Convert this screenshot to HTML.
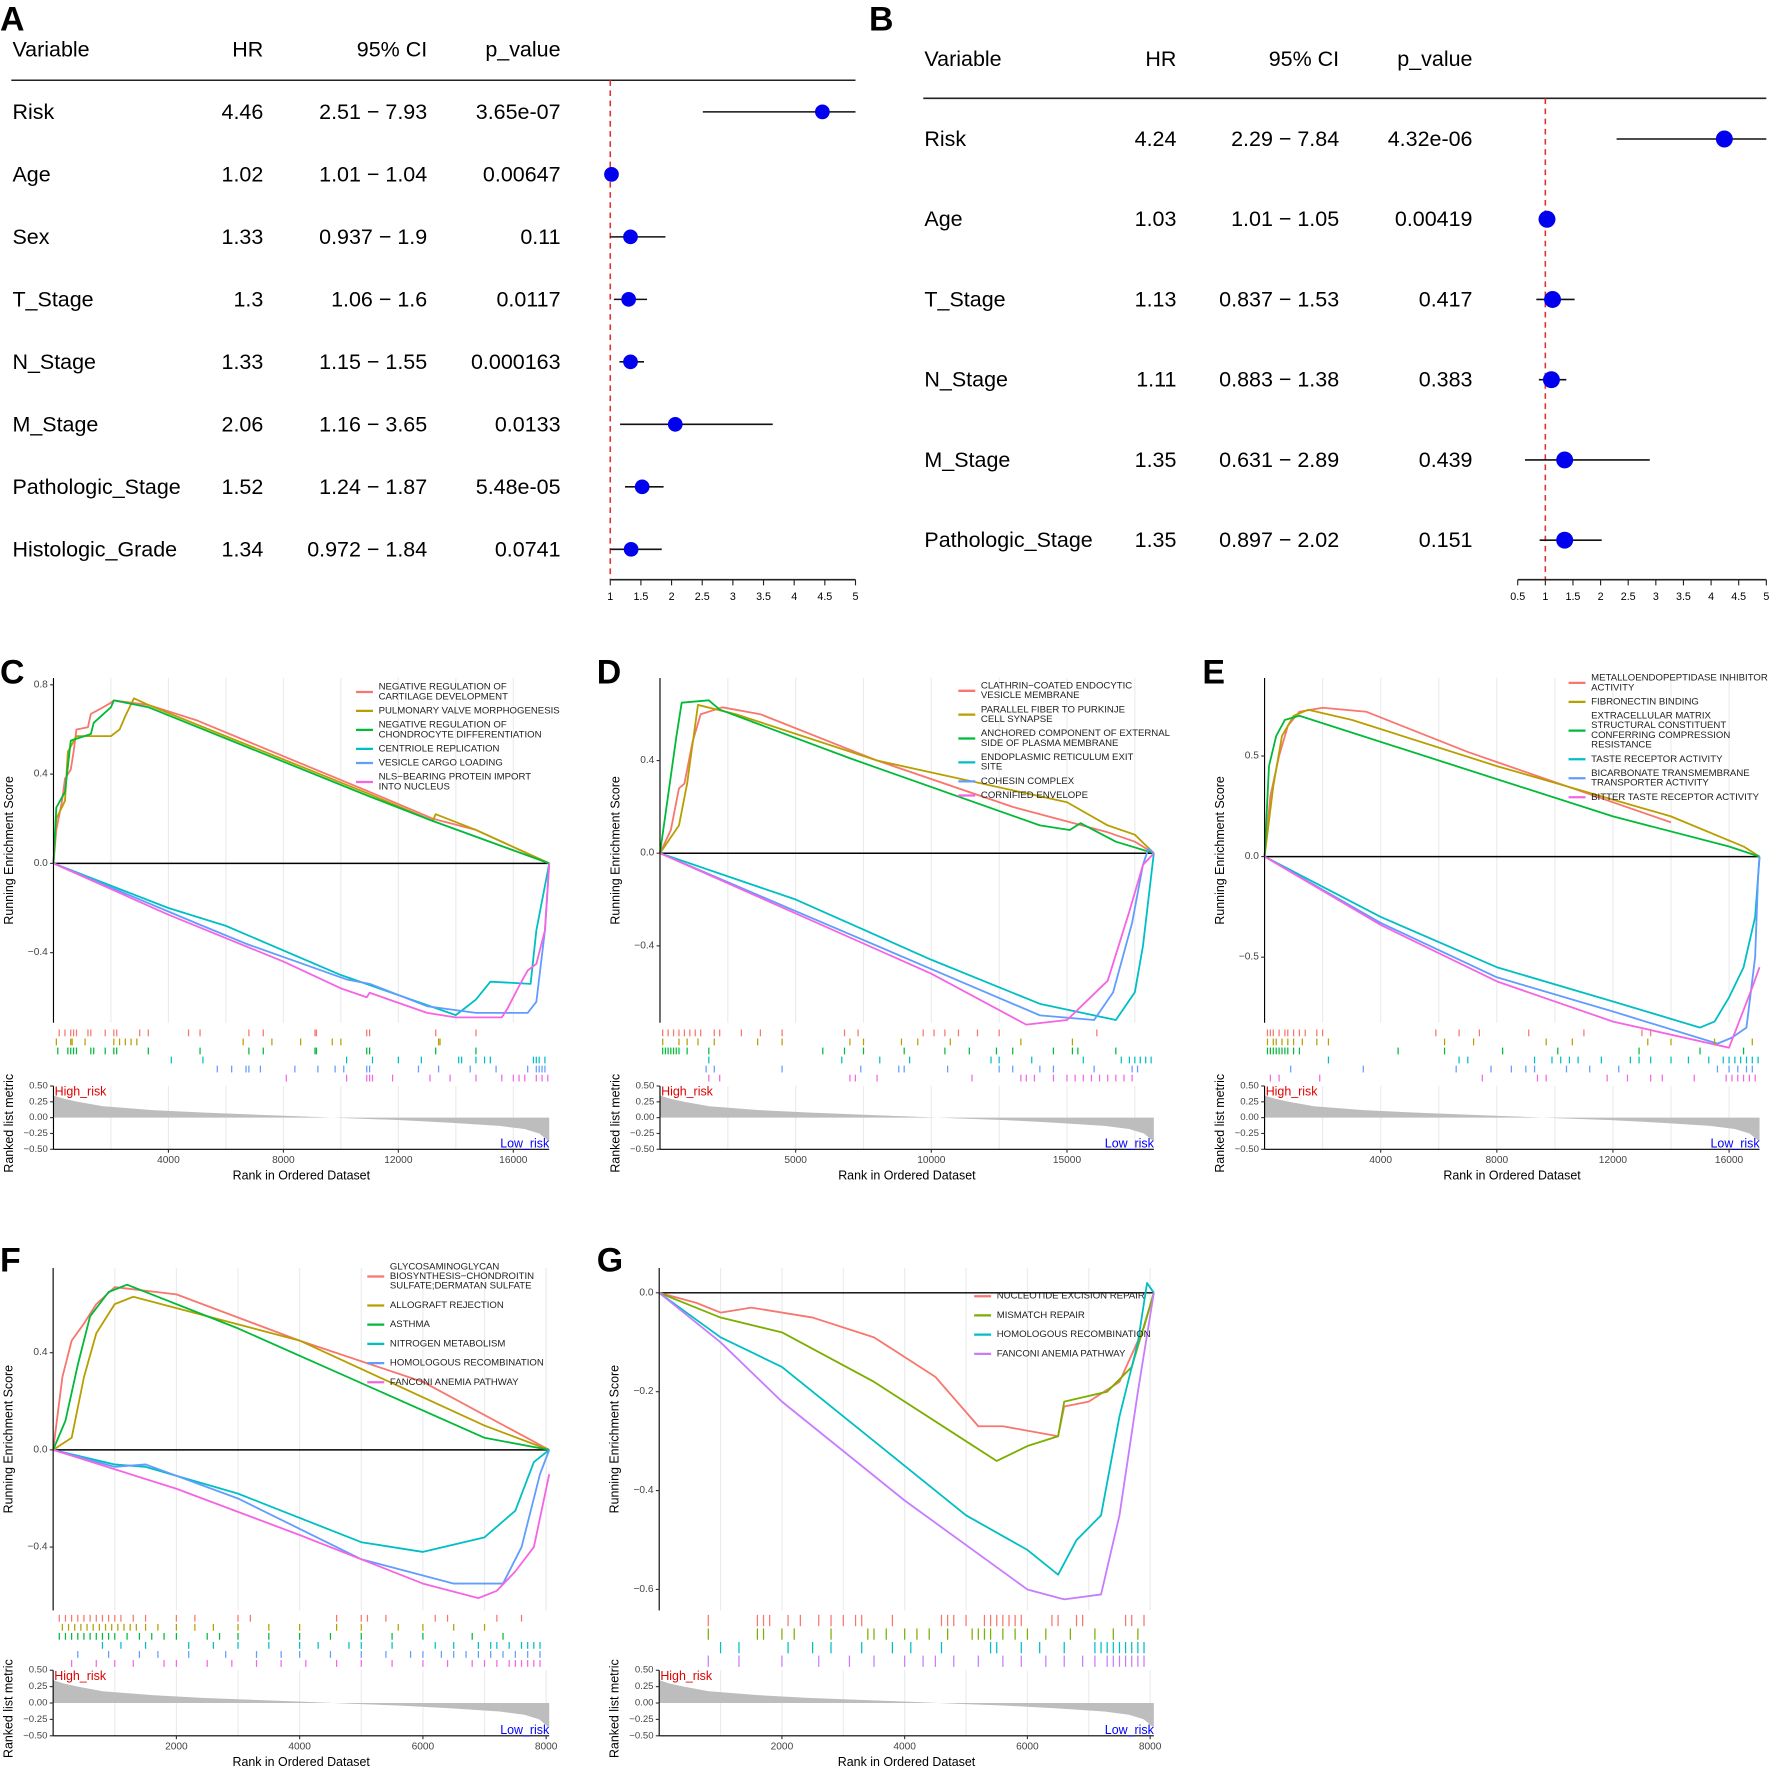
<!DOCTYPE html>
<html><head><meta charset="utf-8"><style>
html,body{margin:0;padding:0;background:#fff}
svg{display:block;font-family:"Liberation Sans",sans-serif}
</style></head><body>
<svg id="fig" xmlns="http://www.w3.org/2000/svg" width="1772" height="1768" viewBox="0 0 1568 1564.5"></svg>
<script>
// ---------- Forest A data ----------
const aVars=["Risk","Age","Sex","T_Stage","N_Stage","M_Stage","Pathologic_Stage","Histologic_Grade"];
const aHR=[4.46,1.02,1.33,1.3,1.33,2.06,1.52,1.34];
const aLo=[2.51,1.01,0.937,1.06,1.15,1.16,1.24,0.972];
const aHi=[7.93,1.04,1.9,1.6,1.55,3.65,1.87,1.84];
const aHRtxt=["4.46","1.02","1.33","1.3","1.33","2.06","1.52","1.34"];
const aCItxt=["2.51 − 7.93","1.01 − 1.04","0.937 − 1.9","1.06 − 1.6","1.15 − 1.55","1.16 − 3.65","1.24 − 1.87","0.972 − 1.84"];
const aP=["3.65e-07","0.00647","0.11","0.0117","0.000163","0.0133","5.48e-05","0.0741"];
const aTicks=[1,1.5,2,2.5,3,3.5,4,4.5,5];
// ---------- Forest B data ----------
const bVars=["Risk","Age","T_Stage","N_Stage","M_Stage","Pathologic_Stage"];
const bHR=[4.24,1.03,1.13,1.11,1.35,1.35];
const bLo=[2.29,1.01,0.837,0.883,0.631,0.897];
const bHi=[7.84,1.05,1.53,1.38,2.89,2.02];
const bHRtxt=["4.24","1.03","1.13","1.11","1.35","1.35"];
const bCItxt=["2.29 − 7.84","1.01 − 1.05","0.837 − 1.53","0.883 − 1.38","0.631 − 2.89","0.897 − 2.02"];
const bP=["4.32e-06","0.00419","0.417","0.383","0.439","0.151"];
const bTicks=[0.5,1,1.5,2,2.5,3,3.5,4,4.5,5];

// ---------- GSEA data ----------
const col6=["#F8766D","#B79F00","#00BA38","#00BFC4","#619CFF","#F564E3"];
const col4=["#F8766D","#7CAE00","#00BFC4","#C77CFF"];
const metricFrac=[0,0.02,0.05,0.1,0.2,0.3,0.4,0.5,0.6,0.7,0.8,0.9,0.95,0.98,1];
const metricVal=[0.35,0.3,0.25,0.18,0.12,0.08,0.05,0.02,-0.01,-0.04,-0.08,-0.13,-0.18,-0.25,-0.38];

const cNames=[["NEGATIVE REGULATION OF","CARTILAGE DEVELOPMENT"],["PULMONARY VALVE MORPHOGENESIS"],["NEGATIVE REGULATION OF","CHONDROCYTE DIFFERENTIATION"],["CENTRIOLE REPLICATION"],["VESICLE CARGO LOADING"],["NLS−BEARING PROTEIN IMPORT","INTO NUCLEUS"]];
const cCurves=[
[[0,0],[100,0.15],[300,0.28],[400,0.38],[600,0.42],[700,0.5],[800,0.6],[1200,0.61],[1300,0.67],[1600,0.69],[2000,0.72],[2100,0.73],[3300,0.71],[5000,0.64],[11000,0.32],[13200,0.2],[14700,0.15],[17250,0]],
[[0,0],[100,0.2],[400,0.28],[500,0.5],[800,0.57],[2000,0.57],[2300,0.6],[2500,0.66],[2800,0.74],[3300,0.71],[11000,0.31],[13200,0.19],[13300,0.22],[14700,0.15],[17250,0]],
[[0,0],[100,0.25],[400,0.32],[600,0.55],[1300,0.58],[1400,0.63],[2000,0.7],[2100,0.73],[3300,0.7],[11000,0.3],[13200,0.19],[17250,0]],
[[0,0],[4000,-0.2],[6000,-0.28],[10000,-0.5],[14000,-0.68],[14300,-0.65],[14700,-0.61],[15200,-0.53],[16600,-0.54],[16800,-0.3],[17100,-0.1],[17250,0]],
[[0,0],[5000,-0.27],[6700,-0.36],[10200,-0.52],[11000,-0.54],[13000,-0.64],[14700,-0.67],[16500,-0.67],[16800,-0.62],[17100,-0.3],[17250,0]],
[[0,0],[4000,-0.23],[8000,-0.44],[10000,-0.56],[10900,-0.6],[11000,-0.58],[13000,-0.67],[14000,-0.69],[15600,-0.69],[15800,-0.65],[16200,-0.55],[16500,-0.48],[16800,-0.45],[17100,-0.3],[17250,0]]];
const cHits=[
[200,400,600,700,800,1200,1300,1800,2100,2200,3000,3300,4700,5100,6800,7300,9100,9150,10900,11000,13300,14700],
[100,600,650,1100,2100,2300,2500,2700,2900,6600,7600,8600,9700,10000,13400,13450],
[150,500,600,700,800,1300,1400,1800,2100,2200,3300,5100,6800,7300,9100,9150,10900,11000,13300,14700],
[4100,5200,10200,11100,12000,12800,14100,14200,14700,15000,15200,16700,16800,16900,17100],
[5700,6200,6700,6800,7200,8400,9200,9800,10100,10900,11000,12700,13400,14500,15400,16500,16800,16900,17000,17100],
[8100,10200,10900,11000,11100,11800,13100,13800,14700,15600,16000,16200,16400,16800,17000,17200]];
const cXTicks=[4000,8000,12000,16000];
const cYTicks=[0.8,0.4,0,-0.4];

const dNames=[["CLATHRIN−COATED ENDOCYTIC","VESICLE MEMBRANE"],["PARALLEL FIBER TO PURKINJE","CELL SYNAPSE"],["ANCHORED COMPONENT OF EXTERNAL","SIDE OF PLASMA MEMBRANE"],["ENDOPLASMIC RETICULUM EXIT","SITE"],["COHESIN COMPLEX"],["CORNIFIED ENVELOPE"]];
const dCurves=[
[[0,0],[400,0.1],[700,0.28],[900,0.3],[1200,0.48],[1500,0.6],[2300,0.63],[3700,0.6],[8000,0.4],[13000,0.2],[16500,0.09],[17500,0.05],[18200,0]],
[[0,0],[700,0.12],[1000,0.3],[1400,0.64],[2800,0.6],[8000,0.4],[15000,0.22],[16500,0.12],[17500,0.08],[18200,0]],
[[0,0],[300,0.25],[600,0.5],[800,0.65],[1800,0.66],[2200,0.62],[7000,0.41],[14000,0.12],[15100,0.1],[15500,0.13],[16800,0.05],[18200,0]],
[[0,0],[5000,-0.2],[10000,-0.46],[14000,-0.65],[16800,-0.72],[17500,-0.6],[17800,-0.4],[18000,-0.2],[18200,0]],
[[0,0],[5000,-0.25],[10000,-0.5],[14000,-0.7],[16000,-0.72],[16700,-0.6],[17400,-0.3],[17800,-0.05],[18000,0.02],[18200,0]],
[[0,0],[5000,-0.26],[10000,-0.52],[13500,-0.74],[15000,-0.72],[16500,-0.55],[17300,-0.25],[17800,-0.05],[18200,0]]];
const dHits=[
[100,300,500,700,900,1100,1300,1500,2000,2200,3000,3700,4500,6800,7300,9700,10100,10500,11000,11700,12500,16100],
[100,700,1000,1400,2000,3600,4500,7000,7500,8900,9500,10700,13300,15200],
[100,200,300,400,500,600,700,1000,1800,6000,6800,7500,9000,10500,11400,12400,13000,14500,15200,15400,16800],
[1800,6700,8100,9200,12200,12500,13700,15600,17000,17300,17500,17700,17900,18100],
[1700,2000,4500,7400,8800,9000,10600,12500,13000,14000,14500,16000,17400,17600],
[1800,2200,7000,7200,8000,11500,13300,13500,13800,14500,15000,15300,15600,15900,16200,16500,16800,17100,17400]];
const dXTicks=[5000,10000,15000];
const dYTicks=[0.4,0,-0.4];

const eNames=[["METALLOENDOPEPTIDASE INHIBITOR","ACTIVITY"],["FIBRONECTIN BINDING"],["EXTRACELLULAR MATRIX","STRUCTURAL CONSTITUENT","CONFERRING COMPRESSION","RESISTANCE"],["TASTE RECEPTOR ACTIVITY"],["BICARBONATE TRANSMEMBRANE","TRANSPORTER ACTIVITY"],["BITTER TASTE RECEPTOR ACTIVITY"]];
const eCurves=[
[[0,0],[200,0.3],[500,0.5],[800,0.65],[1200,0.72],[2000,0.74],[3500,0.72],[7000,0.52],[14000,0.17]],
[[0,0],[300,0.35],[600,0.6],[1000,0.7],[1500,0.73],[3000,0.68],[8000,0.45],[14000,0.2],[16500,0.05],[17050,0]],
[[0,0],[150,0.45],[400,0.6],[700,0.68],[1200,0.7],[12000,0.2],[16000,0.05],[17050,0]],
[[0,0],[4000,-0.3],[8000,-0.55],[12000,-0.72],[15000,-0.85],[15500,-0.82],[16000,-0.7],[16500,-0.55],[16900,-0.3],[17050,0]],
[[0,0],[4000,-0.33],[8000,-0.6],[12000,-0.77],[15600,-0.93],[16100,-0.9],[16600,-0.85],[16900,-0.5],[17000,-0.1],[17050,0]],
[[0,0],[4000,-0.34],[8000,-0.62],[12000,-0.82],[16000,-0.95],[16400,-0.8],[16800,-0.65],[17050,-0.55]]];
const eHits=[
[100,200,300,500,700,800,1000,1200,1400,1800,2000,5900,6700,7400,9100,11000,13000,13300],
[100,300,400,600,800,1000,1300,1800,2200,6200,7200,9700,10600,13200,14000,15500,16800],
[100,200,300,400,500,600,700,800,1000,1200,4600,6200,8200,10100,12900,15000,16500],
[2200,6700,7000,9300,9900,10200,10500,10800,11600,12600,12900,13300,14000,14600,15300,15800,16000,16200,16400,16600,16800,17000],
[900,3400,6600,7800,8500,9000,9300,10400,11200,12200,15600,16000,16300,16600,16800],
[200,500,1900,7500,9400,9700,11800,12500,13300,13700,14800,15900,16100,16300,16500,16700,16900]];
const eXTicks=[4000,8000,12000,16000];
const eYTicks=[0.5,0,-0.5];

const fNames=[["GLYCOSAMINOGLYCAN","BIOSYNTHESIS−CHONDROITIN","SULFATE;DERMATAN SULFATE"],["ALLOGRAFT REJECTION"],["ASTHMA"],["NITROGEN METABOLISM"],["HOMOLOGOUS RECOMBINATION"],["FANCONI ANEMIA PATHWAY"]];
const fCurves=[
[[0,0],[150,0.3],[300,0.45],[500,0.52],[700,0.6],[1000,0.67],[2000,0.64],[4000,0.45],[6000,0.28],[8050,0]],
[[0,0],[300,0.05],[500,0.3],[700,0.48],[1000,0.6],[1300,0.63],[4000,0.45],[7000,0.1],[8050,0]],
[[0,0],[200,0.12],[400,0.35],[600,0.55],[900,0.65],[1200,0.68],[3000,0.5],[7000,0.05],[8050,0]],
[[0,0],[1000,-0.06],[1500,-0.07],[3000,-0.18],[5000,-0.38],[6000,-0.42],[7000,-0.36],[7500,-0.25],[7800,-0.05],[8050,0]],
[[0,0],[1000,-0.07],[1500,-0.06],[3000,-0.2],[5000,-0.45],[6500,-0.55],[7300,-0.55],[7600,-0.4],[7900,-0.1],[8050,0]],
[[0,0],[2000,-0.16],[4000,-0.35],[6000,-0.55],[6900,-0.61],[7200,-0.58],[7500,-0.5],[7800,-0.4],[8050,-0.1]]];
const fHits=[
[100,200,300,400,500,600,700,800,900,1000,1100,1300,1500,2000,2300,3000,3200,4600,5000,5100,5400,6200,6400,7200,7600],
[150,250,350,450,550,650,750,850,950,1050,1150,1250,1350,1500,1700,2000,2300,2600,3000,3500,4000,4600,5000,5600,6000,6500,7000],
[100,200,300,400,500,600,700,800,900,1000,1200,1400,1600,1800,2000,2500,2700,3000,3500,4000,4500,5000,5500,6000,6800,7300],
[800,1100,1500,2200,2600,3000,3500,4000,4300,4800,5000,5500,6200,6500,6900,7100,7200,7400,7600,7700,7800,7900],
[400,900,1400,1700,2200,2800,3300,3700,4000,4500,5000,5400,5800,6000,6300,6500,6700,6900,7100,7300,7500,7700,7900],
[300,700,1000,1300,1800,2000,2500,2900,3300,3700,4100,4600,5000,5500,6000,6400,6800,7000,7200,7400,7500,7600,7700,7800,7900]];
const fXTicks=[2000,4000,6000,8000];
const fYTicks=[0.4,0,-0.4];

const gNames=[["NUCLEOTIDE EXCISION REPAIR"],["MISMATCH REPAIR"],["HOMOLOGOUS RECOMBINATION"],["FANCONI ANEMIA PATHWAY"]];
const gCurves=[
[[0,0],[600,-0.02],[1000,-0.04],[1500,-0.03],[2500,-0.05],[3500,-0.09],[4500,-0.17],[5200,-0.27],[5600,-0.27],[6500,-0.29],[6600,-0.23],[7000,-0.22],[7500,-0.18],[7900,-0.07],[8060,0]],
[[0,0],[1000,-0.05],[2000,-0.08],[3500,-0.18],[5000,-0.3],[5500,-0.34],[6000,-0.31],[6500,-0.29],[6600,-0.22],[7300,-0.2],[7700,-0.15],[8060,0]],
[[0,0],[1000,-0.09],[2000,-0.15],[4000,-0.35],[5000,-0.45],[6000,-0.52],[6500,-0.57],[6800,-0.5],[7200,-0.45],[7500,-0.25],[7800,-0.1],[7950,0.02],[8060,0]],
[[0,0],[1000,-0.1],[2000,-0.22],[4000,-0.42],[6000,-0.6],[6600,-0.62],[7200,-0.61],[7500,-0.45],[7800,-0.2],[8060,0]]];
const gHits=[
[800,1600,1700,1800,2100,2300,2600,2800,3000,3200,3300,3800,4600,4700,4800,5000,5300,5400,5500,5600,5700,5800,5900,6400,6500,6800,6900,7600,7700,7900],
[800,1600,1700,2000,2200,2800,3400,3500,3700,4000,4200,4400,4700,5100,5200,5300,5400,5600,5800,6000,6300,6700,7100,7400,7800],
[1000,1300,2100,2500,2800,3300,3800,4100,4600,5400,5500,5900,6200,6600,7100,7200,7300,7400,7500,7600,7700,7800,7900],
[800,1300,2000,2600,3100,3500,4000,4300,4500,4800,5200,5600,5900,6300,6600,6900,7100,7300,7400,7500,7600,7700,7800,7900]];
const gXTicks=[2000,4000,6000,8000];
const gYTicks=[0,-0.2,-0.4,-0.6];

// ---------- helpers ----------
const NS="http://www.w3.org/2000/svg";
const svg=document.getElementById("fig");
function mk(tag,attrs,parent,txt){const e=document.createElementNS(NS,tag);for(const k in attrs)e.setAttribute(k,attrs[k]);if(txt!==undefined)e.textContent=txt;(parent||svg).appendChild(e);return e;}
function grp(name,parent){const g=mk("g",{},parent);


return g;}
function fmt(v,d){const s=Math.abs(v).toFixed(d);return (v<0?"−":"")+s;}

// ---------- forest ----------
function forest(name,letter,lx,L,vars,hr,lo,hi,hrT,ciT,pT,ticks){
  const g=grp(name);
  const lt=mk("text",{x:lx,y:L.letterY,"font-size":30,"font-weight":"bold"},g,letter);
  
  
  const hdr=[["Variable",L.cVar,"start"],["HR",L.cHR,"end"],["95% CI",L.cCI,"end"],["p_value",L.cP,"end"]];
  hdr.forEach(h=>{const t=mk("text",{x:h[1],y:L.hY,"font-size":19,"text-anchor":h[2],"dominant-baseline":"central"},g,h[0]);
    
    });
  const hl=mk("line",{x1:L.cVar-1,x2:L.x1,y1:L.hLine,y2:L.hLine,stroke:"#222","stroke-width":1.4},g);
  
  
  const xs=v=>L.x0+(v-ticks[0])/(ticks[ticks.length-1]-ticks[0])*(L.x1-L.x0);
  const ref=mk("line",{x1:xs(1),x2:xs(1),y1:L.hLine,y2:L.axY,stroke:"#e03030","stroke-width":1.4,"stroke-dasharray":"5,4"},g);
  
  
  vars.forEach((v,i)=>{
    const y=L.r0+i*L.dr;
    const row=grp("row-"+v.toLowerCase().replace(/_/g,'-'),g);
    mk("text",{x:L.cVar,y:y,"font-size":19,"dominant-baseline":"central"},row,v);
    mk("text",{x:L.cHR,y:y,"font-size":19,"text-anchor":"end","dominant-baseline":"central"},row,hrT[i]);
    mk("text",{x:L.cCI,y:y,"font-size":19,"text-anchor":"end","dominant-baseline":"central"},row,ciT[i]);
    mk("text",{x:L.cP,y:y,"font-size":19,"text-anchor":"end","dominant-baseline":"central"},row,pT[i]);
    const a=Math.max(lo[i],ticks[0]),b=Math.min(hi[i],ticks[ticks.length-1]);
    const w=mk("line",{x1:xs(a),x2:xs(b),y1:y,y2:y,stroke:"#111","stroke-width":1.4},row);
    
    
    const c=mk("circle",{cx:xs(hr[i]),cy:y,r:L.pr,fill:"#0000ee"},row);
    
    
  });
  const ax=grp("x-axis",g);
  mk("line",{x1:L.x0,x2:L.x1,y1:L.axY,y2:L.axY,stroke:"#222","stroke-width":1.4},ax);
  ticks.forEach(t=>{mk("line",{x1:xs(t),x2:xs(t),y1:L.axY,y2:L.axY+5,stroke:"#222","stroke-width":1},ax);
    mk("text",{x:xs(t),y:L.axY+18,"font-size":9.5,"text-anchor":"middle"},ax,String(t));});
}
forest("forest-plot-a","A",0,{letterY:27,cVar:11,cHR:233,cCI:378,cP:496,hY:44,hLine:71,r0:99,dr:55.3,x0:540,x1:757,axY:513,pr:6.5},aVars,aHR,aLo,aHi,aHRtxt,aCItxt,aP,aTicks);
forest("forest-plot-b","B",769,{letterY:27,cVar:818,cHR:1041,cCI:1185,cP:1303,hY:52,hLine:87,r0:123,dr:71,x0:1343,x1:1563,axY:513,pr:7.5},bVars,bHR,bLo,bHi,bHRtxt,bCItxt,bP,bTicks);

// ---------- GSEA ----------
function gsea(name,letter,L,names,curves,hits,xt,yt,cols,yd){
  const g=grp(name);
  const lt=mk("text",{x:L.lx,y:L.ly,"font-size":30,"font-weight":"bold"},g,letter);
  
  
  const xs=r=>L.x0+r/L.xmax*(L.x1-L.x0);
  const ys=v=>L.z-v*L.k;
  const ym=v=>(L.mT+L.mB)/2-v*(L.mB-L.mT);
  // grid
  const grid=grp("grid",g);
  const step=xt[1]-xt[0];
  for(let r=step/2;r<L.xmax;r+=step/2){
    mk("line",{x1:xs(r),x2:xs(r),y1:L.top,y2:L.bot,stroke:"#ebebeb","stroke-width":1},grid);
    mk("line",{x1:xs(r),x2:xs(r),y1:L.mT,y2:L.mB,stroke:"#ebebeb","stroke-width":1},grid);
  }
  // zero line
  const zl=mk("line",{x1:L.x0,x2:L.x1,y1:ys(0),y2:ys(0),stroke:"#000","stroke-width":1.3},g);
  
  
  // curves
  curves.forEach((c,i)=>{
    const p=mk("polyline",{points:c.map(q=>xs(q[0]).toFixed(1)+","+ys(q[1]).toFixed(1)).join(" "),fill:"none",stroke:cols[i],"stroke-width":1.6,"stroke-linejoin":"round"},g);
    
    
  });
  // y axis
  const ya=grp("es-y-axis",g);
  mk("line",{x1:L.x0,x2:L.x0,y1:L.top,y2:L.bot,stroke:"#000","stroke-width":1},ya);
  yt.forEach(v=>{mk("line",{x1:L.x0-3,x2:L.x0,y1:ys(v),y2:ys(v),stroke:"#333"},ya);
    mk("text",{x:L.x0-5,y:ys(v),"font-size":9,fill:"#444","text-anchor":"end","dominant-baseline":"central"},ya,fmt(v,1));});
  const yc=(L.top+L.bot)/2;
  const yTitle=mk("text",{x:L.x0-36,y:yc,"font-size":11,"text-anchor":"middle",transform:`rotate(-90 ${L.x0-36} ${yc})`},g,"Running Enrichment Score");
  
  
  // legend
  const lg=grp("legend",g);
  let ly=L.legY;
  names.forEach((n,i)=>{
    const h=(n.length-1)*8.6;
    const e=grp("legend-entry",lg);
    mk("line",{x1:L.legX,x2:L.legX+15,y1:ly+h/2,y2:ly+h/2,stroke:cols[i],"stroke-width":2},e);
    n.forEach((s,j)=>mk("text",{x:L.legX+20,y:ly+j*8.6,"font-size":8.5,fill:"#222","dominant-baseline":"central"},e,s));
    ly+=h+L.legGap;
  });
  // rug
  const rg=grp("hit-rug",g);
  const rh=(L.rB-L.rT)/hits.length;
  hits.forEach((hs,i)=>hs.forEach(r=>mk("line",{x1:xs(r),x2:xs(r),y1:L.rT+i*rh+1,y2:L.rT+(i+1)*rh-1,stroke:cols[i],"stroke-width":1.1},rg)));
  // metric
  const mg=grp("ranked-metric",g);
  let d="M"+xs(0)+","+ym(0);
  metricFrac.forEach((f,i)=>{d+=" L"+xs(f*L.xmax).toFixed(1)+","+ym(metricVal[i]).toFixed(1);});
  d+=" L"+xs(L.xmax)+","+ym(0)+"Z";
  mk("path",{d:d,fill:"#bdbdbd"},mg);
  mk("line",{x1:L.x0,x2:L.x0,y1:L.mT,y2:L.mB,stroke:"#000","stroke-width":1},mg);
  mk("line",{x1:L.x0,x2:L.x1,y1:L.mB,y2:L.mB,stroke:"#000","stroke-width":1},mg);
  [0.5,0.25,0,-0.25,-0.5].forEach(v=>{mk("line",{x1:L.x0-3,x2:L.x0,y1:ym(v),y2:ym(v),stroke:"#333"},mg);
    mk("text",{x:L.x0-5,y:ym(v),"font-size":8.5,fill:"#444","text-anchor":"end","dominant-baseline":"central"},mg,fmt(v,2));});
  mk("text",{x:L.x0+1,y:ym(0.5)+5,"font-size":11,fill:"#e00000","dominant-baseline":"central"},mg,"High_risk");
  mk("text",{x:L.x1,y:L.mB-5,"font-size":11,fill:"#0000ff","text-anchor":"end","dominant-baseline":"central"},mg,"Low_risk");
  const mc=(L.mT+L.mB)/2+5;
  const mt=mk("text",{x:L.x0-36,y:mc,"font-size":11,"text-anchor":"middle",transform:`rotate(-90 ${L.x0-36} ${mc})`},g,"Ranked list metric");
  
  
  const xa=grp("x-axis",g);
  xt.forEach(r=>{mk("line",{x1:xs(r),x2:xs(r),y1:L.mB,y2:L.mB+3,stroke:"#333"},xa);
    mk("text",{x:xs(r),y:L.mB+10,"font-size":9,fill:"#444","text-anchor":"middle","dominant-baseline":"central"},xa,String(r));});
  const xtl=mk("text",{x:(L.x0+L.x1)/2,y:L.mB+23,"font-size":11,"text-anchor":"middle","dominant-baseline":"central"},g,"Rank in Ordered Dataset");
  
  
}
gsea("gsea-c","C",{lx:0,ly:605,x0:47.3,x1:486,xmax:17250,z:764,k:197.5,top:600,bot:905,rT:910,rB:958,mT:961,mB:1017,legX:315,legY:608,legGap:12.5},cNames,cCurves,cHits,cXTicks,cYTicks,col6);
gsea("gsea-d","D",{lx:528,ly:605,x0:584,x1:1021,xmax:18200,z:755,k:205,top:600,bot:905,rT:910,rB:958,mT:961,mB:1017,legX:848,legY:607,legGap:12.5},dNames,dCurves,dHits,dXTicks,dYTicks,col6);
gsea("gsea-e","E",{lx:1064,ly:605,x0:1119,x1:1557,xmax:17050,z:758,k:178,top:600,bot:905,rT:910,rB:958,mT:961,mB:1017,legX:1388,legY:600,legGap:12.5},eNames,eCurves,eHits,eXTicks,eYTicks,col6);
gsea("gsea-f","F",{lx:0,ly:1125,x0:47,x1:486,xmax:8050,z:1283,k:215,top:1122,bot:1425,rT:1428,rB:1476,mT:1478,mB:1536,legX:325,legY:1121,legGap:17},fNames,fCurves,fHits,fXTicks,fYTicks,col6);
gsea("gsea-g","G",{lx:528,ly:1125,x0:583.3,x1:1021,xmax:8060,z:1144,k:437.5,top:1122,bot:1425,rT:1428,rB:1476,mT:1478,mB:1536,legX:862,legY:1147,legGap:17},gNames,gCurves,gHits,gXTicks,gYTicks,col4);
</script>
</body></html>
